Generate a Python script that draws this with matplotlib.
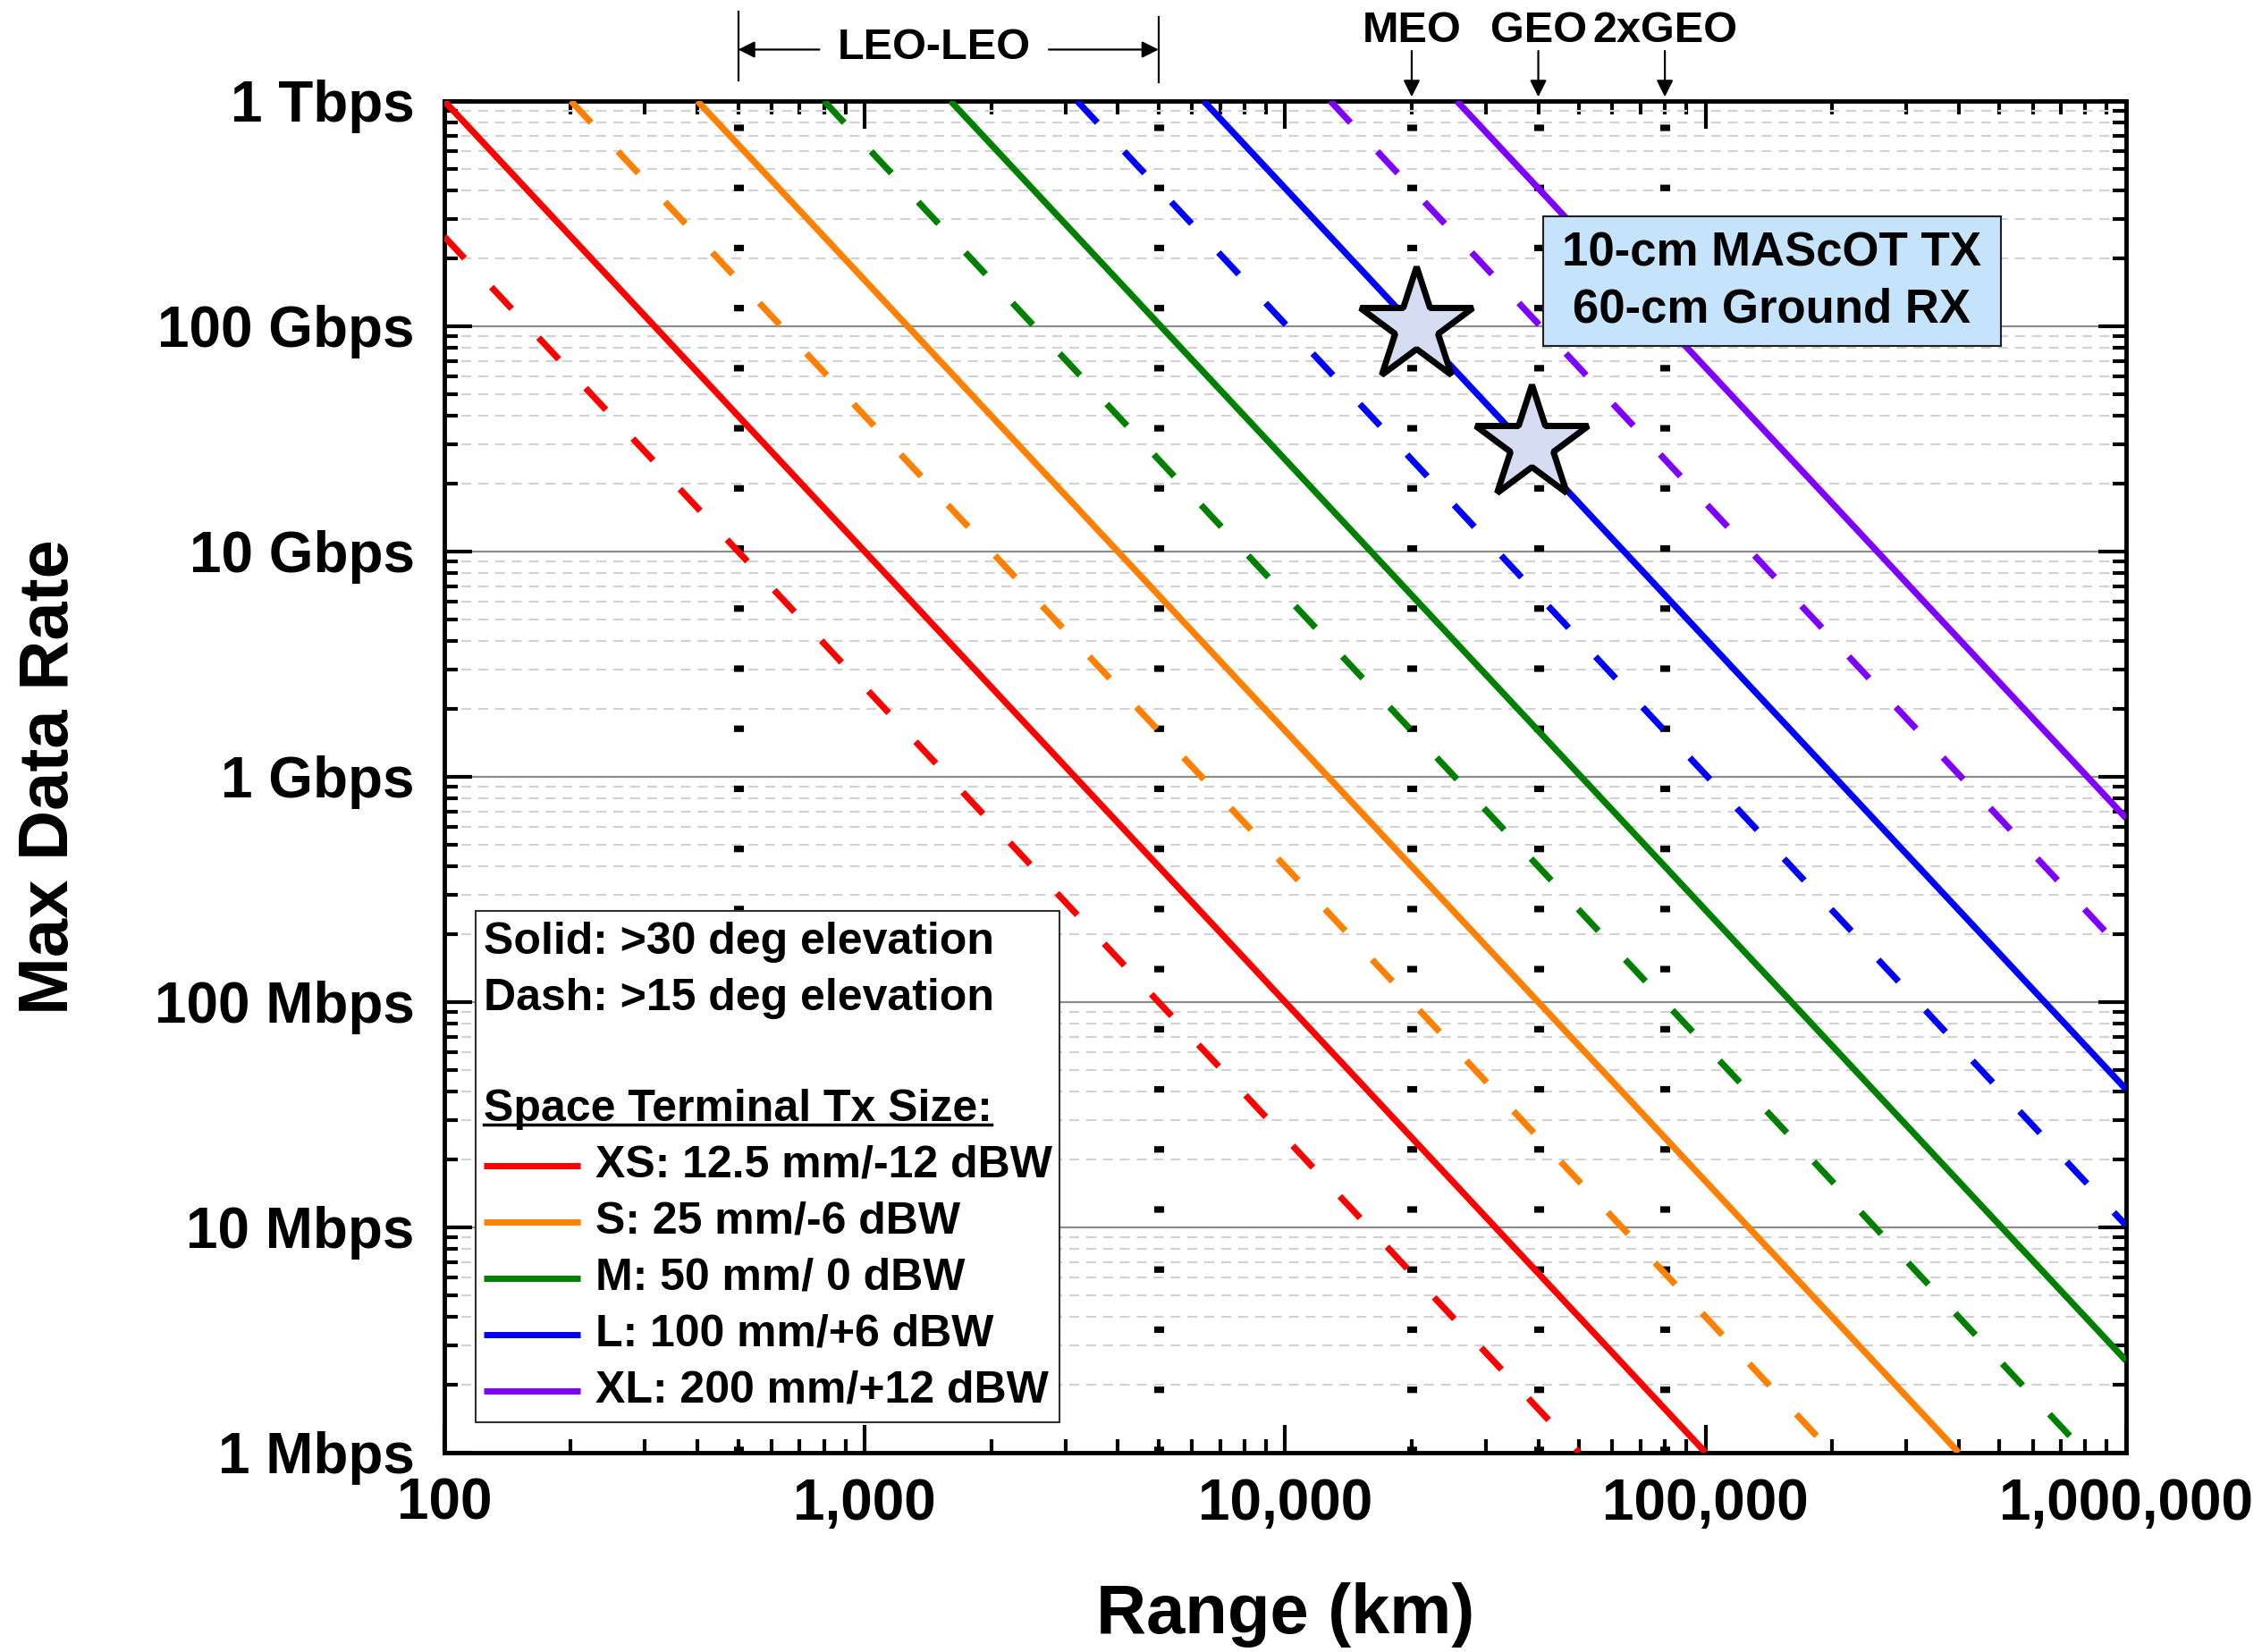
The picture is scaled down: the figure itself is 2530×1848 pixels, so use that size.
import matplotlib
matplotlib.use("Agg")
from matplotlib import pyplot as plt
from matplotlib import ticker
from matplotlib.patches import Rectangle
from matplotlib.transforms import blended_transform_factory
import numpy as np

plt.rcParams['font.family'] = ['Liberation Sans', 'DejaVu Sans']
plt.rcParams['font.weight'] = 'bold'

# terminal sizes: legend names and colours
sizes = ['XS: 12.5 mm/-12 dBW', 'S: 25 mm/-6 dBW', 'M: 50 mm/ 0 dBW',
         'L: 100 mm/+6 dBW', 'XL: 200 mm/+12 dBW']
colors = ['#ff0000', '#ff8000', '#008000', '#0000ff', '#8000ff']

# end points of each line where it meets the plot frame (range km, rate bps)
solid_x = [[100, 1e5], [400, 4e5], [1600, 1e6], [6400, 1e6], [25600, 1e6]]
solid_y = [[1e12, 1e6], [1e12, 1e6], [1e12, 2.56e6], [1e12, 4.1e7], [1e12, 6.55e8]]
dash_x = [[100, 5e4], [200, 2e5], [800, 8e5], [3200, 1e6], [12800, 1e6]]
dash_y = [[2.5e11, 1e6], [1e12, 1e6], [1e12, 1e6], [1e12, 1.02e7], [1e12, 1.64e8]]

# reference ranges (km)
ref_ranges = [500, 5000, 20000, 40000, 80000]
orbit_names = ['MEO', 'GEO', '2xGEO']
orbit_ranges = [20000, 40000, 80000]
leo_span = [500, 5000]

# star markers
star_x = [20500, 38500]
star_y = [1.0e11, 3.0e10]

xticks = [100, 1000, 10000, 100000, 1000000]
xlabels = ['100', '1,000', '10,000', '100,000', '1,000,000']
yticks = [1e6, 1e7, 1e8, 1e9, 1e10, 1e11, 1e12]
ylabels = ['1 Mbps', '10 Mbps', '100 Mbps', '1 Gbps', '10 Gbps', '100 Gbps', '1 Tbps']

fig = plt.figure(figsize=(25.3, 18.48), dpi=100)
ax = fig.add_axes([0.1964, 0.1207, 0.7435, 0.8182])
ax.set_xscale('log')
ax.set_yscale('log')
ax.set_xlim(100, 1e6)
ax.set_ylim(1e6, 1e12)

# grid (horizontal only)
ax.yaxis.grid(True, which='major', color='#8c8c8c', lw=1.6, ls='-', zorder=0)
ax.yaxis.grid(True, which='minor', color='#d2d2d2', lw=1.6, ls=(0, (5, 3.5)), zorder=0)
ax.set_axisbelow(True)

# reference dotted verticals
for r in ref_ranges:
    ax.axvline(r, color='black', lw=8, ls=(0, (0.65, 5.4)), dash_capstyle='butt', zorder=1)

for i in range(len(sizes)):
    ax.plot(solid_x[i], solid_y[i], color=colors[i], lw=5.2, solid_capstyle='butt', zorder=3)
    ax.plot(dash_x[i], dash_y[i], color=colors[i], lw=5.2, ls=(0, (4.6, 6.1)),
            dash_capstyle='butt', zorder=3)

ax.plot(star_x, star_y, ls='none', marker='*', ms=96, mfc='#d6dcf2', mec='black',
        mew=5, zorder=6)

# axes styling
ax.set_xticks(xticks)
ax.set_xticklabels(xlabels)
ax.set_yticks(yticks)
ax.set_yticklabels(ylabels)
ax.xaxis.set_minor_locator(ticker.LogLocator(base=10, subs=np.arange(2, 10), numticks=20))
ax.yaxis.set_minor_locator(ticker.LogLocator(base=10, subs=np.arange(2, 10), numticks=20))
ax.xaxis.set_minor_formatter(ticker.NullFormatter())
ax.yaxis.set_minor_formatter(ticker.NullFormatter())
ax.tick_params(which='both', direction='in', top=True, right=True, width=3, labelsize=46)
ax.tick_params(which='major', length=22)
ax.tick_params(which='minor', length=11)
ax.tick_params(axis='y', pad=24)
ax.tick_params(axis='x', pad=20)
for s in ax.spines.values():
    s.set_linewidth(3.5)

ax.set_xlabel('Range (km)', fontsize=56, fontweight='bold', va='center')
ax.set_ylabel('Max Data Rate', fontsize=56, fontweight='bold', va='center')
ax.xaxis.set_label_coords(0.5, -0.120)
ax.yaxis.set_label_coords(-0.2345, 0.5)

# top annotations
trans = blended_transform_factory(ax.transData, ax.transAxes)
for name, r in zip(orbit_names, orbit_ranges):
    ax.text(r, 1.052, name, transform=trans, ha='center', va='center', fontsize=35)
    ax.annotate('', xy=(r, 1.003), xycoords=trans, xytext=(r, 1.037), textcoords=trans,
                arrowprops=dict(arrowstyle='-|>', lw=1.6, color='black', mutation_scale=28,
                                shrinkA=0, shrinkB=0), annotation_clip=False)
ax.text(1460, 1.039, 'LEO-LEO', transform=trans, ha='center', va='center', fontsize=35)
ax.plot([leo_span[0]] * 2, [1.015, 1.066], transform=trans, color='black', lw=1.6, clip_on=False)
ax.plot([leo_span[1]] * 2, [1.014, 1.062], transform=trans, color='black', lw=1.6, clip_on=False)
ax.annotate('', xy=(leo_span[0], 1.038), xycoords=trans, xytext=(780, 1.038), textcoords=trans,
            arrowprops=dict(arrowstyle='-|>', lw=1.6, color='black', mutation_scale=28,
                            shrinkA=0, shrinkB=0), annotation_clip=False)
ax.annotate('', xy=(leo_span[1], 1.038), xycoords=trans, xytext=(2740, 1.038), textcoords=trans,
            arrowprops=dict(arrowstyle='-|>', lw=1.6, color='black', mutation_scale=28,
                            shrinkA=0, shrinkB=0), annotation_clip=False)

# info box
ax.add_patch(Rectangle((0.6535, 0.8186), 0.2719, 0.096, transform=ax.transAxes,
                       facecolor='#c5e3fa', edgecolor='#202020', lw=1.5, zorder=7))
ax.text(0.7895, 0.8869, '10-cm MAScOT TX', transform=ax.transAxes, ha='center', va='center',
        fontsize=38, zorder=8)
ax.text(0.7895, 0.8453, '60-cm Ground RX', transform=ax.transAxes, ha='center', va='center',
        fontsize=38, zorder=8)

# legend box drawn by hand
ax.add_patch(Rectangle((0.0189, 0.0224), 0.3471, 0.3786, transform=ax.transAxes,
                       facecolor='white', edgecolor='#303030', lw=1.5, zorder=7))
ax.text(0.0232, 0.3778, 'Solid: >30 deg elevation', transform=ax.transAxes, va='center',
        fontsize=36, zorder=8)
ax.text(0.0232, 0.3362, 'Dash: >15 deg elevation', transform=ax.transAxes, va='center',
        fontsize=36, zorder=8)
head = ax.text(0.0232, 0.2540, 'Space Terminal Tx Size:', transform=ax.transAxes, va='center',
               fontsize=36, zorder=8)
row_y = [0.2124, 0.1708, 0.1291, 0.0875, 0.0459]
for i in range(len(sizes)):
    ax.plot([0.0232, 0.0806], [row_y[i]] * 2, transform=ax.transAxes, color=colors[i], lw=5,
            solid_capstyle='butt', zorder=8)
    ax.text(0.090, row_y[i], sizes[i], transform=ax.transAxes, va='center', fontsize=36, zorder=8)

fig.canvas.draw()
bb = head.get_window_extent(fig.canvas.get_renderer()).transformed(ax.transAxes.inverted())
ax.plot([bb.x0, bb.x1], [bb.y0 + 0.004] * 2, transform=ax.transAxes, color='black', lw=2.5,
        zorder=8)

fig.savefig('out.png', dpi=100)
